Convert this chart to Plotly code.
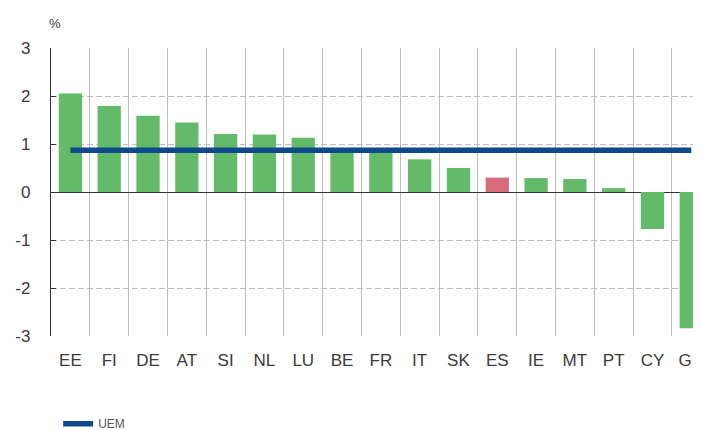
import plotly.graph_objects as go

countries = ["EE", "FI", "DE", "AT", "SI", "NL", "LU", "BE", "FR", "IT",
             "SK", "ES", "IE", "MT", "PT", "CY", "GR"]
values = [2.05, 1.79, 1.59, 1.45, 1.21, 1.20, 1.13, 0.88, 0.86, 0.68,
          0.50, 0.30, 0.29, 0.27, 0.08, -0.77, -2.84]
uem_value = 0.87
highlight = "ES"
y_ticks = [-3, -2, -1, 0, 1, 2, 3]

GREEN = "#63bb6a"
RED = "#d66b79"
BLUE = "#0e4a89"
FONT = "Liberation Sans, Arial, sans-serif"

bar_colors = [RED if c == highlight else GREEN for c in countries]
x_range = [-0.5, 16.25]
boundaries = [i + 0.5 for i in range(len(countries) - 1)]

fig = go.Figure()
fig.add_bar(x=countries, y=values, marker=dict(color=bar_colors, line=dict(width=0)),
            width=0.6, showlegend=False, hoverinfo="x+y")
fig.add_scatter(x=countries, y=[uem_value] * len(countries), mode="lines", name="UEM",
                line=dict(color=BLUE, width=5.5))

# page body adds ~8px offset, so margins are shifted to land the plot where the original sits
fig.update_layout(
    width=701, height=430,
    margin=dict(l=43, r=8, t=40, b=102),
    plot_bgcolor="white", paper_bgcolor="white",
    font=dict(family=FONT, color="#333333"),
    showlegend=True,
    legend=dict(orientation="h", x=0.011, xanchor="left",
                y=0.033, yanchor="middle", yref="container",
                font=dict(size=12, color="#555555"), itemwidth=30,
                bgcolor="rgba(0,0,0,0)"),
    xaxis=dict(
        type="category", range=x_range, tickson="boundaries", automargin=False,
        showgrid=True, gridcolor="#bdbdbd", gridwidth=1.3,
        ticks="", showline=False, zeroline=False,
        tickfont=dict(size=17, color="#3a3a3a"),
        ticklabelstandoff=12,
    ),
    xaxis2=dict(
        overlaying="x", anchor="free", position=0.5, range=x_range,
        tickmode="array", tickvals=boundaries, showticklabels=False,
        ticks="outside", ticklen=4, tickcolor="#333333", tickwidth=1.2,
        showgrid=False, zeroline=False, showline=True, linecolor="#333333", linewidth=1.2,
    ),
    xaxis3=dict(
        overlaying="x", anchor="free", position=0.5, range=x_range,
        tickmode="array", tickvals=boundaries, showticklabels=False,
        ticks="inside", ticklen=4, tickcolor="#333333", tickwidth=1.2,
        showgrid=False, zeroline=False, showline=False,
    ),
    yaxis=dict(
        range=[-3, 3], tickmode="array", tickvals=y_ticks,
        ticktext=[str(v) for v in y_ticks], automargin=False,
        showgrid=True, gridcolor="#bdbdbd", griddash="6px,3px", gridwidth=1.2,
        zeroline=True, zerolinecolor="#333333", zerolinewidth=1.2,
        showline=True, linecolor="#333333", linewidth=1.3,
        ticks="inside", ticklen=5, tickcolor="#333333",
        tickfont=dict(size=17, color="#3a3a3a"),
        ticklabelstandoff=16,
    ),
)

fig.add_annotation(text="%", xref="paper", yref="paper", x=0.0, y=1.0,
                   xanchor="left", yanchor="bottom", xshift=-4, yshift=15,
                   showarrow=False, font=dict(size=13, color="#333333"))

fig.write_html("out.html")
